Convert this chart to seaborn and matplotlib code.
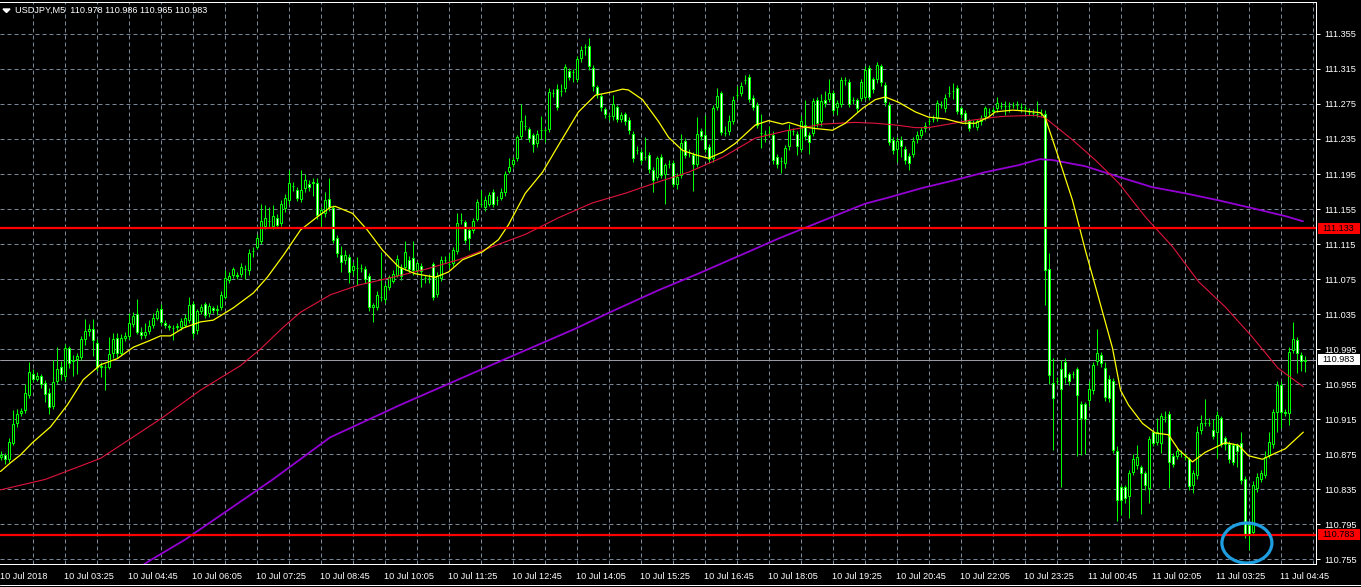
import numpy as np
import pandas as pd
import seaborn as sns
import matplotlib
matplotlib.use("Agg")
from matplotlib import pyplot as plt
import matplotlib.transforms as mtransforms
from matplotlib.patches import Ellipse, Polygon, Rectangle
from matplotlib.lines import Line2D

# prices are stored as points (0.001) above 110.000
BASE = 110.0
PT = 0.001

bar_open = [
    872, 874, 869, 888, 910, 922, 925, 943, 967, 961,
    964, 956, 945, 930, 959, 974, 964, 996, 981, 984,
    986, 1006, 1016, 1018, 1002, 975, 975, 975, 990, 1008,
    991, 1008, 1010, 1024, 1035, 1015, 1011, 1016, 1022, 1031,
    1041, 1025, 1021, 1019, 1020, 1020, 1023, 1028, 1047, 1017,
    1038, 1046, 1036, 1042, 1040, 1043, 1055, 1074, 1080, 1080,
    1081, 1087, 1085, 1107, 1112, 1118, 1136, 1141, 1136, 1145,
    1139, 1156, 1165, 1181, 1177, 1166, 1179, 1184, 1186, 1185,
    1150, 1150, 1167, 1156, 1122, 1103, 1097, 1100, 1085, 1088,
    1088, 1086, 1078, 1043, 1043, 1055, 1052, 1066, 1073, 1080,
    1088, 1089, 1097, 1099, 1085, 1090, 1076, 1076, 1092, 1058,
    1076, 1097, 1092, 1093, 1107, 1142, 1140, 1131, 1131, 1144,
    1161, 1157, 1161, 1174, 1165, 1168, 1174, 1199, 1206, 1213,
    1238, 1250, 1246, 1239, 1230, 1245, 1245, 1246, 1287, 1292,
    1290, 1293, 1313, 1311, 1304, 1327, 1340, 1341, 1316, 1294,
    1284, 1269, 1261, 1261, 1271, 1258, 1263, 1257, 1241, 1223,
    1220, 1215, 1217, 1200, 1192, 1215, 1195, 1207, 1208, 1184,
    1194, 1233, 1220, 1217, 1207, 1244, 1239, 1226, 1213, 1272,
    1287, 1242, 1244, 1256, 1285, 1288, 1302, 1306, 1282, 1274,
    1242, 1241, 1241, 1240, 1214, 1210, 1208, 1227, 1244, 1241,
    1224, 1251, 1240, 1242, 1280, 1255, 1280, 1281, 1288, 1272,
    1275, 1302, 1300, 1279, 1279, 1282, 1283, 1316, 1303, 1303,
    1318, 1297, 1274, 1234, 1224, 1234, 1224, 1216, 1218, 1235,
    1240, 1247, 1255, 1258, 1259, 1274, 1270, 1287, 1290, 1293,
    1270, 1265, 1255, 1253, 1249, 1255, 1261, 1266, 1267, 1270,
    1273, 1273, 1273, 1274, 1274, 1272, 1270, 1266, 1265, 1264,
    1265, 1264, 1087, 956, 959, 972, 980, 966, 966, 972,
    932, 932, 937, 948, 981, 988, 973, 961, 959, 878,
    837, 837, 827, 855, 862, 860, 853, 836, 900, 889,
    888, 917, 921, 873, 873, 876, 872, 869, 840, 851,
    902, 911, 911, 903, 900, 916, 893, 887, 885, 885,
    888, 847, 794, 786, 836, 847, 851, 874, 886, 923,
    954, 923, 922, 994, 1005, 988, 981,
]
bar_high = [
    878, 876, 893, 925, 927, 928, 955, 980, 972, 969,
    967, 960, 950, 982, 997, 981, 1001, 999, 988, 990,
    1010, 1029, 1024, 1029, 1006, 980, 978, 1009, 1013, 1013,
    1012, 1014, 1036, 1037, 1052, 1020, 1025, 1028, 1036, 1042,
    1047, 1028, 1024, 1022, 1025, 1031, 1035, 1055, 1050, 1041,
    1047, 1049, 1048, 1044, 1045, 1061, 1085, 1083, 1089, 1083,
    1093, 1091, 1109, 1112, 1127, 1161, 1160, 1157, 1160, 1149,
    1165, 1172, 1200, 1186, 1180, 1200, 1195, 1188, 1190, 1190,
    1157, 1175, 1190, 1160, 1125, 1113, 1108, 1104, 1094, 1100,
    1092, 1090, 1082, 1048, 1061, 1106, 1070, 1080, 1085, 1102,
    1092, 1118, 1101, 1118, 1096, 1093, 1080, 1081, 1095, 1083,
    1101, 1101, 1105, 1112, 1151, 1150, 1143, 1135, 1145, 1167,
    1177, 1170, 1175, 1178, 1170, 1179, 1198, 1213, 1215, 1240,
    1275, 1262, 1249, 1242, 1245, 1261, 1248, 1293, 1292, 1298,
    1298, 1321, 1316, 1315, 1330, 1341, 1344, 1350, 1319, 1297,
    1287, 1272, 1264, 1285, 1274, 1266, 1266, 1260, 1244, 1227,
    1224, 1237, 1220, 1203, 1216, 1218, 1208, 1211, 1211, 1196,
    1241, 1236, 1224, 1220, 1260, 1247, 1262, 1229, 1274, 1293,
    1290, 1250, 1262, 1284, 1296, 1300, 1308, 1309, 1285, 1277,
    1263, 1245, 1250, 1244, 1218, 1214, 1228, 1252, 1248, 1244,
    1262, 1280, 1243, 1282, 1283, 1286, 1290, 1304, 1291, 1279,
    1306, 1306, 1303, 1283, 1282, 1304, 1318, 1320, 1306, 1323,
    1321, 1300, 1277, 1237, 1237, 1238, 1227, 1219, 1237, 1244,
    1249, 1254, 1259, 1262, 1280, 1278, 1286, 1295, 1299, 1297,
    1273, 1268, 1258, 1257, 1258, 1262, 1273, 1270, 1272, 1283,
    1277, 1278, 1277, 1277, 1278, 1276, 1274, 1270, 1269, 1278,
    1269, 1268, 1105, 985, 963, 983, 985, 969, 970, 975,
    936, 935, 959, 980, 1018, 992, 980, 965, 962, 884,
    840, 840, 857, 875, 885, 863, 856, 896, 903, 916,
    922, 924, 924, 876, 882, 880, 876, 872, 857, 907,
    920, 938, 916, 915, 924, 919, 896, 890, 888, 888,
    900, 850, 797, 844, 853, 857, 878, 900, 927, 958,
    958, 926, 997, 1026, 1009, 992, 987,
]
bar_low = [
    868, 864, 866, 885, 906, 918, 922, 939, 957, 958,
    951, 935, 921, 927, 955, 960, 958, 973, 964, 967,
    983, 1000, 1010, 987, 970, 963, 948, 972, 985, 985,
    988, 1004, 1007, 1020, 1012, 1006, 1008, 1012, 1019, 1028,
    1022, 1019, 1017, 1005, 1017, 1017, 1020, 1025, 1008, 1012,
    1035, 1030, 1032, 1036, 1034, 1040, 1052, 1070, 1076, 1075,
    1077, 1075, 1080, 1100, 1109, 1115, 1132, 1134, 1132, 1134,
    1136, 1152, 1161, 1176, 1164, 1163, 1175, 1176, 1170, 1144,
    1135, 1146, 1153, 1116, 1100, 1083, 1092, 1070, 1080, 1068,
    1083, 1071, 1038, 1026, 1040, 1050, 1048, 1062, 1070, 1077,
    1074, 1085, 1082, 1080, 1081, 1066, 1070, 1071, 1051, 1055,
    1073, 1093, 1088, 1090, 1104, 1138, 1116, 1108, 1128, 1141,
    1157, 1153, 1158, 1157, 1160, 1165, 1170, 1196, 1203, 1210,
    1235, 1245, 1232, 1220, 1226, 1235, 1232, 1243, 1283, 1268,
    1284, 1289, 1302, 1300, 1300, 1323, 1331, 1314, 1290, 1282,
    1267, 1259, 1257, 1257, 1254, 1254, 1251, 1241, 1209, 1218,
    1207, 1211, 1196, 1175, 1188, 1190, 1161, 1202, 1180, 1178,
    1190, 1213, 1215, 1176, 1203, 1234, 1220, 1208, 1209, 1268,
    1239, 1238, 1240, 1252, 1281, 1284, 1298, 1277, 1268, 1247,
    1225, 1232, 1237, 1207, 1202, 1196, 1202, 1223, 1240, 1217,
    1220, 1234, 1218, 1238, 1249, 1250, 1272, 1277, 1264, 1262,
    1271, 1297, 1271, 1275, 1266, 1278, 1279, 1279, 1288, 1299,
    1296, 1273, 1228, 1218, 1209, 1215, 1207, 1200, 1214, 1231,
    1236, 1243, 1251, 1254, 1255, 1270, 1266, 1283, 1281, 1263,
    1259, 1252, 1244, 1249, 1245, 1251, 1257, 1262, 1264, 1266,
    1269, 1262, 1266, 1270, 1268, 1266, 1265, 1262, 1261, 1260,
    1261, 1045, 955, 880, 955, 837, 956, 954, 962, 873,
    874, 875, 930, 944, 977, 975, 936, 935, 876, 799,
    805, 819, 802, 851, 858, 806, 834, 819, 884, 885,
    876, 912, 836, 860, 869, 872, 868, 834, 830, 847,
    898, 907, 907, 892, 870, 883, 880, 865, 862, 860,
    841, 779, 765, 782, 832, 843, 848, 870, 882, 900,
    905, 918, 908, 990, 968, 970, 969,
]
bar_close = [
    874, 869, 889, 909, 921, 924, 945, 969, 961, 964,
    955, 944, 929, 957, 972, 966, 996, 979, 983, 987,
    1007, 1016, 1018, 1005, 975, 976, 974, 989, 1007, 990,
    1008, 1010, 1025, 1033, 1015, 1011, 1015, 1021, 1030, 1038,
    1026, 1023, 1020, 1019, 1021, 1027, 1031, 1045, 1013, 1038,
    1043, 1034, 1044, 1040, 1041, 1057, 1076, 1079, 1086, 1079,
    1089, 1087, 1105, 1107, 1122, 1141, 1145, 1141, 1147, 1137,
    1161, 1168, 1185, 1181, 1168, 1177, 1188, 1180, 1185, 1148,
    1154, 1165, 1157, 1120, 1105, 1094, 1103, 1083, 1090, 1088,
    1088, 1075, 1043, 1045, 1057, 1055, 1067, 1077, 1081, 1098,
    1078, 1106, 1086, 1085, 1093, 1084, 1076, 1076, 1055, 1079,
    1097, 1097, 1092, 1108, 1139, 1142, 1120, 1122, 1141, 1163,
    1161, 1165, 1171, 1161, 1165, 1175, 1195, 1203, 1211, 1237,
    1256, 1250, 1236, 1229, 1241, 1245, 1245, 1289, 1287, 1272,
    1290, 1317, 1306, 1311, 1326, 1337, 1340, 1318, 1295, 1286,
    1271, 1263, 1261, 1275, 1258, 1262, 1255, 1245, 1213, 1223,
    1211, 1215, 1201, 1188, 1213, 1194, 1205, 1207, 1184, 1192,
    1230, 1217, 1220, 1206, 1241, 1238, 1224, 1212, 1270, 1284,
    1243, 1242, 1255, 1280, 1285, 1296, 1302, 1281, 1272, 1251,
    1242, 1241, 1241, 1211, 1206, 1210, 1225, 1245, 1244, 1227,
    1255, 1238, 1232, 1278, 1253, 1278, 1276, 1287, 1268, 1276,
    1302, 1302, 1275, 1279, 1270, 1300, 1314, 1283, 1292, 1319,
    1300, 1277, 1232, 1222, 1233, 1227, 1211, 1208, 1233, 1240,
    1245, 1250, 1255, 1258, 1276, 1274, 1282, 1287, 1290, 1267,
    1263, 1256, 1248, 1253, 1255, 1259, 1270, 1266, 1268, 1276,
    1273, 1273, 1273, 1274, 1274, 1272, 1270, 1266, 1265, 1264,
    1265, 1085, 965, 939, 959, 949, 963, 958, 966, 942,
    916, 915, 949, 977, 990, 979, 940, 939, 880, 822,
    823, 825, 853, 869, 872, 853, 840, 892, 888, 900,
    918, 917, 866, 864, 878, 876, 872, 838, 853, 900,
    910, 911, 911, 896, 920, 887, 886, 869, 866, 878,
    845, 784, 784, 840, 849, 853, 872, 889, 923, 954,
    923, 922, 992, 1007, 990, 981, 983,
]

# moving averages at sample bars
yellow_bar = [0, 2.5, 5, 8, 12.5, 16.7, 20.7, 25, 29.2, 33.2, 37.5, 40, 42.5, 45.7, 50,
              53.2, 58.2, 63.2, 66.7, 70.7, 75, 79.2, 82.5, 83.7, 88, 91.7, 95.5, 99.5,
              103.7, 108.7, 112, 115.5, 120.5, 124.5, 127, 131.2, 135.5, 139.5, 144.5,
              148.7, 153, 155.5, 157, 160.5, 164.5, 167, 170.5, 173.7, 177, 180.5, 183.7,
              188.7, 192, 195.5, 197, 200.5, 203.7, 208, 211.2, 215.5, 218.7, 221.2,
              224.5, 228.7, 232, 236.2, 240.5, 243.7, 247, 248.7, 253, 256.2, 260, 261.2,
              264.5, 268, 271.2, 274.5, 278, 280, 282, 285.5, 288.7, 292, 294.5, 298,
              301.2, 306.2, 309.5, 312, 315.5, 318.7, 321.2, 325.7]
yellow_pts = [855, 865, 874, 888, 906, 931, 960, 977, 984, 997, 1005, 1010, 1010, 1019, 1026,
              1028, 1042, 1059, 1077, 1102, 1131, 1146, 1157, 1158, 1150, 1131, 1108, 1089,
              1081, 1077, 1083, 1097, 1106, 1120, 1137, 1173, 1197, 1228, 1266,
              1285, 1289, 1292, 1291, 1280, 1255, 1237, 1222, 1217, 1213, 1220, 1230,
              1251, 1256, 1252, 1254, 1249, 1247, 1245, 1253, 1270, 1280, 1283,
              1277, 1266, 1260, 1258, 1253, 1253, 1260, 1266, 1268, 1267, 1265, 1259,
              1214, 1165, 1108, 1054, 996, 948, 931, 910, 899, 897, 880, 866,
              877, 888, 885, 873, 869, 876, 881, 900]
red_bar = [0, 11.2, 25, 40, 50, 60, 65, 70.7, 75, 82.5, 89.5, 98, 106.2, 114.5, 123, 131.2,
           139.5, 148, 156.2, 164.5, 172, 180.5, 188.7, 197, 205.5, 213.7, 218.7, 223.7,
           228.7, 232, 237, 242, 248.7, 251.2, 258.7, 261.2, 268, 273.7, 279.5, 286.2,
           293, 299.5, 306.2, 312.9, 319.4, 325.7]
red_pts = [834, 846, 870, 915, 948, 976, 995, 1020, 1037, 1057, 1068, 1077, 1086, 1097, 1112,
           1126, 1145, 1162, 1173, 1186, 1197, 1214, 1236, 1245, 1252, 1254, 1253, 1251,
           1248, 1248, 1252, 1256, 1260, 1261, 1262, 1259, 1234, 1211, 1185, 1146,
           1112, 1072, 1043, 1009, 973, 952]
purple_bar = [30, 36.9, 46.1, 68.1, 82.4, 99.9, 112.4, 124.9, 143.6, 151.9, 164.4, 174.9,
              194.9, 216.1, 221.9, 230.4, 238.6, 246.1, 254.4, 259.9, 262.9, 271.1, 279.4,
              287.9, 296.1, 304.4, 312.9, 321.1, 325.6]
purple_pts = [731, 752, 777, 846, 894, 931, 956, 981, 1018, 1036, 1062, 1082,
              1122, 1161, 1168, 1179, 1188, 1197, 1205, 1212, 1211, 1204, 1192,
              1180, 1173, 1165, 1156, 1147, 1141]

price_ticks = [110.755, 110.795, 110.835, 110.875, 110.915, 110.955, 110.995, 111.035,
               111.075, 111.115, 111.155, 111.195, 111.235, 111.275, 111.315, 111.355]
time_bars = [0, 16, 32, 48, 64, 80, 96, 112, 128, 144, 160, 176, 192, 208, 224, 240,
             256, 272, 288, 304, 320]
time_labels = ["10 Jul 2018", "10 Jul 03:25", "10 Jul 04:45", "10 Jul 06:05", "10 Jul 07:25",
               "10 Jul 08:45", "10 Jul 10:05", "10 Jul 11:25", "10 Jul 12:45", "10 Jul 14:05",
               "10 Jul 15:25", "10 Jul 16:45", "10 Jul 18:05", "10 Jul 19:25", "10 Jul 20:45",
               "10 Jul 22:05", "10 Jul 23:25", "11 Jul 00:45", "11 Jul 02:05", "11 Jul 03:25",
               "11 Jul 04:45"]
level_lines = [111.133, 110.783]
last_price = 110.983
header = "USDJPY,M5  110.978 110.986 110.965 110.983"

n = len(bar_close)
assert len(bar_open) == n and len(bar_high) == n and len(bar_low) == n

sns.set_style("dark", {"axes.facecolor": "black", "figure.facecolor": "black"})
plt.rcParams['font.family'] = ['Liberation Sans', 'DejaVu Sans']

W, H = 1361, 587
fig = plt.figure(figsize=(W / 100, H / 100), dpi=100, facecolor="black")
ax = fig.add_axes([0, 23 / H, 1316 / W, 562 / H])
ax.set_facecolor("black")
ax.grid(False)

px = 0.72  # one pixel in points
lime = "#00ff00"
grid_c = "#778899"

df = pd.DataFrame({"o": bar_open, "h": bar_high, "l": bar_low, "c": bar_close})
df = BASE + df * PT
df["x"] = np.arange(n)
bull = df["c"] >= df["o"]

# grid
for b in range(8, 329, 8):
    ax.axvline(b, color=grid_c, lw=px, ls=(0, (4, 3)), zorder=1)
for p in price_ticks:
    ax.axhline(p, color=grid_c, lw=px, ls=(0, (4, 3)), zorder=1)

# candles
ax.vlines(df["x"], df["l"], df["h"], color=lime, lw=px, zorder=3)
ax.bar(df["x"], (df["c"] - df["o"]).abs(), bottom=df[["o", "c"]].min(axis=1), width=0.5,
       color=np.where(bull, "black", "white"), edgecolor=lime, linewidth=px, zorder=4)

# moving averages
sns.lineplot(x=purple_bar, y=BASE + np.array(purple_pts) * PT, color="#9400d3", lw=1.3,
             ax=ax, estimator=None, sort=False, zorder=5)
sns.lineplot(x=red_bar, y=BASE + np.array(red_pts) * PT, color="#e0143c", lw=0.8,
             ax=ax, estimator=None, sort=False, zorder=5)
sns.lineplot(x=yellow_bar, y=BASE + np.array(yellow_pts) * PT, color="#ffff00", lw=0.9,
             ax=ax, estimator=None, sort=False, zorder=5)

# horizontal levels
ax.axhline(last_price, color="#9a9aa4", lw=px, zorder=2)
for p in level_lines:
    ax.axhline(p, color="#ff0000", lw=1.6, zorder=6)

ax.add_patch(Ellipse((311.6, 110.7733), width=12.5, height=0.0457, fill=False,
                     ec="#1e9ee0", lw=2.3, zorder=7))

ax.set_xlim(-0.125, 328.875)
ax.set_ylim(110.74929, 111.39157)

# axes frame and ticks
ax.spines["left"].set_visible(False)
for s in ["top", "right", "bottom"]:
    ax.spines[s].set_color("white")
    ax.spines[s].set_linewidth(px)
ax.yaxis.tick_right()
ax.set_yticks(price_ticks)
ax.set_yticklabels([f"{p:.3f}" for p in price_ticks])
ax.set_xticks(time_bars)
ax.set_xticklabels(time_labels, ha="left")
ax.tick_params(axis="y", colors="white", labelsize=6.6, length=3, width=px, direction="out",
               pad=3, right=True, left=False)
ax.tick_params(axis="x", colors="white", labelsize=6.6, length=4, width=px, direction="out",
               pad=1.5)
for lbl in ax.get_xticklabels():
    lbl.set_x(lbl.get_position()[0])
offset = mtransforms.ScaledTranslation(-1 / 100, 0, fig.dpi_scale_trans)
for lbl in ax.get_xticklabels():
    lbl.set_transform(lbl.get_transform() + offset)

# price boxes on the axis
blend = mtransforms.blended_transform_factory(ax.transAxes, ax.transData)
for p, fc in [(level_lines[0], "#ff0000"), (level_lines[1], "#ff0000"), (last_price, "white")]:
    ax.add_patch(Rectangle((1318 / 1316, p - 5.5 / 875), 42 / 1316, 11 / 875, transform=blend,
                           facecolor=fc, edgecolor="none", clip_on=False, zorder=10))
    ax.text(1322 / 1316, p, f"{p:.3f}", transform=blend, ha="left", va="center",
            fontsize=6.6, color="black", clip_on=False, zorder=11)

# header
fig.text(15 / W, 1 - 10.5 / H, header, color="white", fontsize=6.6, ha="left", va="center")
fig.add_artist(Polygon([[3, H - 9], [10, H - 9], [6.5, H - 12.5]], closed=True,
                       transform=mtransforms.IdentityTransform(), color="white"))
fig.add_artist(Line2D([0, 1], [2 / H, 2 / H], transform=fig.transFigure, color="white", lw=px))

fig.savefig("out.png", dpi=100, facecolor="black")
